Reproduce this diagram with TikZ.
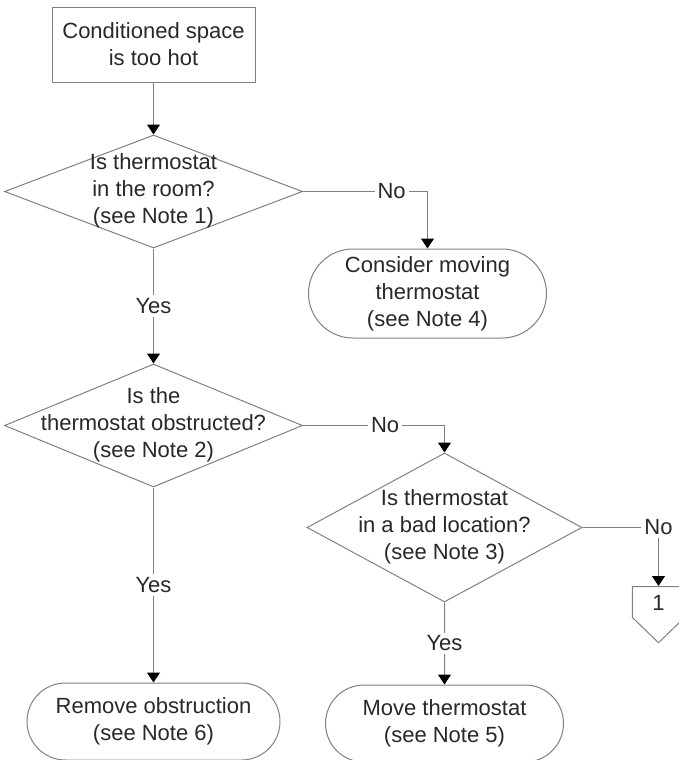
\documentclass[tikz,border=0pt]{standalone}
\usepackage{fontspec}
\setmainfont{Liberation Sans}
\usetikzlibrary{positioning, shapes.geometric, shapes.misc, shapes.symbols, arrows.meta}

\newcommand{\dtext}[1]{\makebox[0pt]{\begin{tabular}{@{}c@{}}#1\end{tabular}}}

\begin{document}
\begin{tikzpicture}[
    node distance = 26pt,
    every node/.style = {font=\fontsize{11}{13.5}\selectfont, text=ink},
    process/.style = {rectangle, draw=edge, line width=0.5pt, minimum width=101.5pt, minimum height=37.5pt, align=center, inner sep=0pt},
    decision/.style = {diamond, draw=edge, line width=0.5pt, inner sep=0pt, minimum width=149pt, minimum height=56.5pt},
    terminal/.style = {rounded rectangle, draw=edge, line width=0.5pt, minimum width=119pt, minimum height=44.5pt, align=center, inner sep=0pt},
    offpage/.style = {signal, signal to=south, signal pointer angle=92, draw=edge, line width=0.5pt, inner xsep=10pt, inner ysep=3.75pt, text height=8pt, text depth=0pt},
    arrow/.style = {draw=edge, line width=0.5pt, -{Triangle[width=6.5pt, length=5pt, color=black]}},
    answer/.style = {fill=white, inner sep=1.5pt}
]
    % Colors definition
    \definecolor{edge}{RGB}{128, 128, 128}
    \definecolor{ink}{RGB}{40, 40, 40}

    \useasboundingbox (0,0) rectangle (339.5pt,-380pt);

    % Nodes
    \node (start) [process] at (76.75pt,-22.25pt) {Conditioned space\\is too hot};
    \node (room) [decision, below=26pt of start] {\dtext{Is thermostat\\in the room?\\(see Note 1)}};
    \node (move) [terminal, below=0pt of room, xshift=137pt] {Consider moving\\thermostat\\(see Note 4)};

    \node (obstr) [decision, below=57.5pt of room, minimum height=61.5pt] {\dtext{Is the\\thermostat obstructed?\\(see Note 2)}};
    \node (remove) [terminal, below=97.5pt of obstr, minimum width=126.5pt, minimum height=38.5pt] {Remove obstruction\\(see Note 6)};

    \node (location) [decision, below=57pt of move, xshift=8.5pt, minimum width=137.5pt, minimum height=74.5pt] {\dtext{Is thermostat\\in a bad location?\\(see Note 3)}};
    \node (relocate) [terminal, below=41pt of location, minimum height=38.5pt] {Move thermostat\\(see Note 5)};
    \node (page1) [offpage, below=29.25pt of location.east, xshift=38pt] {1};

    % Connections
    \draw [arrow] (start) -- (room);
    \path [arrow] (room.east) -| node[answer, pos=0.356] {No} (move.north);
    \draw [arrow] (room) -- node[answer] {Yes} (obstr);

    \path [arrow] (obstr.east) -| node[answer, pos=0.29] {No} (location.north);
    \draw [arrow] (obstr) -- node[answer] {Yes} (remove);

    \path [arrow] (location.east) -| node[answer, pos=0.5] {No} (page1.north);
    \draw [arrow] (location) -- node[answer] {Yes} (relocate);

\end{tikzpicture}
\end{document}
